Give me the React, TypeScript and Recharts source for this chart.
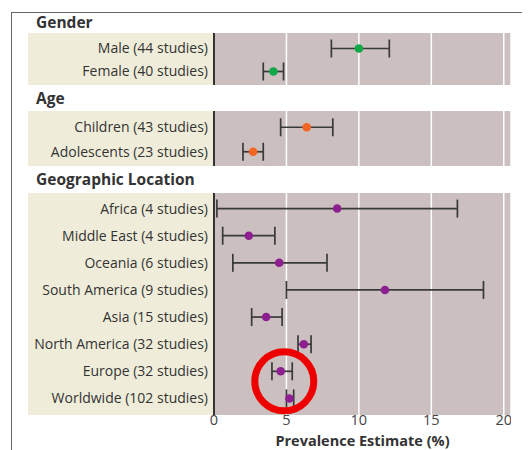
import React from "react";
import {
  CartesianGrid,
  ErrorBar,
  ReferenceDot,
  Scatter,
  ScatterChart,
  XAxis,
  YAxis,
} from "recharts";

const genderLabels = ["Male (44 studies)", "Female (40 studies)"];
const genderEst = [10.0, 4.1];
const genderLow = [8.1, 3.4];
const genderHigh = [12.1, 4.8];

const ageLabels = ["Children (43 studies)", "Adolescents (23 studies)"];
const ageEst = [6.4, 2.7];
const ageLow = [4.6, 2.0];
const ageHigh = [8.2, 3.4];

const geoLabels = [
  "Africa (4 studies)",
  "Middle East (4 studies)",
  "Oceania (6 studies)",
  "South America (9 studies)",
  "Asia (15 studies)",
  "North America (32 studies)",
  "Europe (32 studies)",
  "Worldwide (102 studies)",
];
const geoEst = [8.5, 2.4, 4.5, 11.8, 3.6, 6.2, 4.6, 5.2];
const geoLow = [0.2, 0.6, 1.3, 5.0, 2.6, 5.8, 4.0, 5.0];
const geoHigh = [16.8, 4.2, 7.8, 18.6, 4.7, 6.7, 5.4, 5.5];

const xTicks = [0, 5, 10, 15, 20];

const FONT = "'Open Sans', 'Noto Sans', sans-serif";
const PANEL = "#cbbfbf";
const BEIGE = "#efedda";
const CHART_W = 483;
const LABEL_W = 186;
const AXIS_H = 34;

function build(labels: string[], est: number[], low: number[], high: number[]) {
  return labels.map((label, i) => ({
    label,
    est: est[i],
    err: [est[i] - low[i], high[i] - est[i]],
  }));
}

function Dot(color: string) {
  return (props: any) => (
    <circle cx={props.cx} cy={props.cy} r={4.3} fill={color} />
  );
}

function Section({
  labels,
  est,
  low,
  high,
  color,
  height,
  showAxis,
  pad,
  children,
}: {
  labels: string[];
  est: number[];
  low: number[];
  high: number[];
  color: string;
  height: number;
  showAxis?: boolean;
  pad: { top: number; bottom: number };
  children?: React.ReactNode;
}) {
  const data = build(labels, est, low, high);
  return (
    <ScatterChart
      width={CHART_W}
      height={height}
      margin={{ top: 0, right: 0, bottom: 0, left: 0 }}
    >
      <rect x={0} y={0} width={LABEL_W} height={showAxis ? height - AXIS_H : height} fill={BEIGE} />
      <CartesianGrid
        horizontal={false}
        fill={PANEL}
        stroke="#ffffff"
        strokeWidth={1.5}
      />
      <XAxis
        type="number"
        dataKey="est"
        domain={[0, 20.5]}
        ticks={xTicks}
        hide={!showAxis}
        height={showAxis ? AXIS_H : 0}
        axisLine={false}
        tickLine={false}
        tickSize={0}
        tickMargin={0}
        tick={{ fill: "#444", fontSize: 14.5, fontFamily: FONT }}
        label={
          showAxis
            ? {
                value: "Prevalence Estimate (%)",
                position: "insideBottom",
                offset: 3,
                fill: "#333",
                fontSize: 14.5,
                fontWeight: 700,
                fontFamily: FONT,
              }
            : undefined
        }
      />
      <YAxis
        type="category"
        dataKey="label"
        reversed
        width={LABEL_W}
        padding={pad}
        axisLine={{ stroke: "#333", strokeWidth: 2 }}
        tickLine={false}
        tickSize={4}
        tickMargin={2}
        interval={0}
        tick={{ fill: "#333", fontSize: 14, fontFamily: FONT }}
      />
      <Scatter data={data} isAnimationActive={false} shape={Dot(color)}>
        <ErrorBar
          dataKey="err"
          direction="x"
          width={9}
          stroke="#3a3a3a"
          strokeWidth={1.7}
          isAnimationActive={false}
        />
      </Scatter>
      {children}
    </ScatterChart>
  );
}

const headerStyle: React.CSSProperties = {
  position: "absolute",
  left: 28,
  fontFamily: FONT,
  fontWeight: 700,
  fontSize: 15.5,
  color: "#333",
  lineHeight: "18px",
};

export default function App() {
  return (
    <div style={{ position: "relative", width: 522, height: 442, background: "#fff" }}>
      <div
        style={{
          position: "absolute",
          left: 3,
          top: 4,
          width: 530,
          height: 450,
          borderLeft: "1.5px solid #666",
          borderTop: "1.5px solid #666",
        }}
      />
      <div style={{ ...headerStyle, top: 5 }}>Gender</div>
      <div style={{ position: "absolute", left: 20, top: 25 }}>
        <Section
          labels={genderLabels}
          est={genderEst}
          low={genderLow}
          high={genderHigh}
          color="#12a84a"
          height={52}
          pad={{ top: 4, bottom: 2 }}
        />
      </div>
      <div style={{ ...headerStyle, top: 81 }}>Age</div>
      <div style={{ position: "absolute", left: 20, top: 103 }}>
        <Section
          labels={ageLabels}
          est={ageEst}
          low={ageLow}
          high={ageHigh}
          color="#f26522"
          height={55}
          pad={{ top: 4, bottom: 2 }}
        />
      </div>
      <div style={{ ...headerStyle, top: 162 }}>Geographic Location</div>
      <div style={{ position: "absolute", left: 20, top: 185 }}>
        <Section
          labels={geoLabels}
          est={geoEst}
          low={geoLow}
          high={geoHigh}
          color="#8e1f90"
          height={222 + AXIS_H}
          showAxis
          pad={{ top: 2, bottom: 3 }}
        >
          <ReferenceDot
            x={4.85}
            y="Europe (32 studies)"
            r={29.5}
            ifOverflow="visible"
            shape={(p: any) => (
              <circle
                cx={p.cx}
                cy={p.cy + 10}
                r={29.5}
                fill="none"
                stroke="#ee0000"
                strokeWidth={7}
              />
            )}
          />
        </Section>
      </div>
    </div>
  );
}
